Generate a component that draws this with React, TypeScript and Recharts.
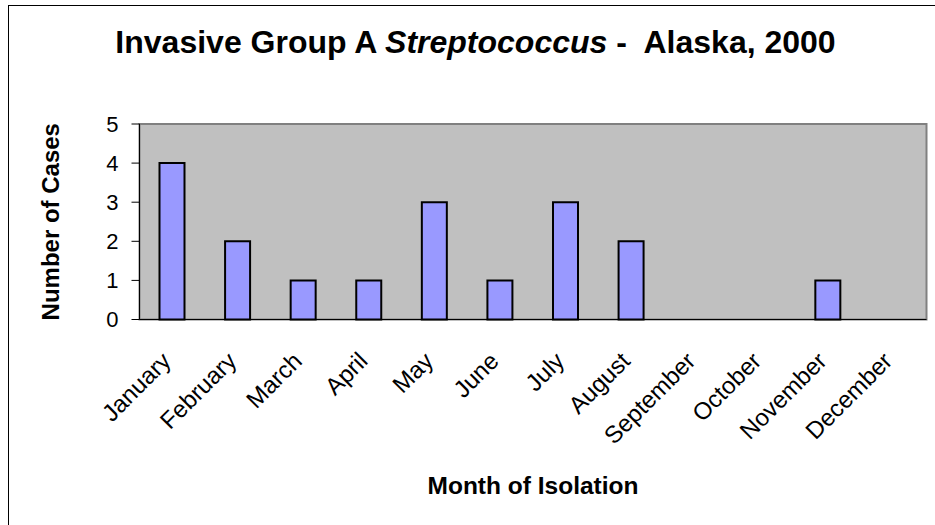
import React from 'react';
import { BarChart, Bar, XAxis, YAxis, ReferenceArea } from 'recharts';

const months = [
  'January', 'February', 'March', 'April', 'May', 'June',
  'July', 'August', 'September', 'October', 'November', 'December',
];
const cases = [4, 2, 1, 1, 3, 1, 3, 2, 0, 0, 1, 0];
const yTicks = [0, 1, 2, 3, 4, 5];
const monthEdges = [0, 1, 2, 3, 4, 5, 6, 7, 8, 9, 10, 11, 12];

const data = months.map((month, i) => ({ month, cases: cases[i] }));

const MonthTick = (props: any) => {
  const { x, y, payload } = props;
  return (
    <text
      x={x}
      y={y}
      transform={`rotate(-45, ${x}, ${y})`}
      textAnchor="end"
      fontSize={24}
      fill="#000"
    >
      {payload.value}
    </text>
  );
};

const App: React.FC = () => {
  return (
    <div
      style={{
        position: 'absolute',
        left: 0,
        top: 0,
        width: 935,
        height: 525,
        overflow: 'hidden',
        background: '#fff',
        fontFamily: '"Liberation Sans", Arial, sans-serif',
      }}
    >
      {/* chart frame, only left and top edges fall inside the picture */}
      <div
        style={{
          position: 'absolute',
          left: 8,
          top: 5,
          width: 1000,
          height: 1000,
          border: '1px solid #000',
          boxSizing: 'border-box',
        }}
      />
      <div style={{ position: 'absolute', left: 0, top: 0 }}>
        <BarChart
          width={935}
          height={525}
          data={data}
          margin={{ top: 124, right: 8.5, left: 0, bottom: 0 }}
        >
          <XAxis
            xAxisId="edges"
            type="number"
            domain={[0, 12]}
            allowDataOverflow
            ticks={monthEdges}
            tick={false}
            tickLine={{ stroke: '#000' }}
            tickSize={7}
            axisLine={false}
            height={0}
          />
          <XAxis
            dataKey="month"
            interval={0}
            height={205.5}
            axisLine={{ stroke: '#000' }}
            tickLine={false}
            tickSize={0}
            tickMargin={43}
            tick={<MonthTick />}
            label={{
              value: 'Month of Isolation',
              position: 'insideBottom',
              offset: 31,
              fontSize: 24.5,
              fontWeight: 'bold',
              fill: '#000',
            }}
          />
          <YAxis
            width={139.5}
            domain={[0, 5]}
            ticks={yTicks}
            interval={0}
            axisLine={{ stroke: '#000' }}
            tickLine={{ stroke: '#000' }}
            tickSize={8}
            tickMargin={13}
            tick={{ fontSize: 22, fill: '#000' }}
            label={{
              value: 'Number of Cases',
              angle: -90,
              position: 'insideLeft',
              offset: 50.5,
              fontSize: 24,
              fontWeight: 'bold',
              fill: '#000',
              style: { textAnchor: 'middle' },
            }}
          />
          <ReferenceArea
            y1={0}
            y2={5}
            fill="#C0C0C0"
            fillOpacity={1}
            stroke="#808080"
            strokeWidth={2}
          />
          <Bar
            dataKey="cases"
            fill="#9999FF"
            stroke="#000"
            strokeWidth={2}
            barSize={25}
            isAnimationActive={false}
          />
        </BarChart>
      </div>
      <svg
        width={935}
        height={525}
        style={{ position: 'absolute', left: 0, top: 0, pointerEvents: 'none' }}
      >
        <text
          x={475.5}
          y={53}
          textAnchor="middle"
          fontSize={32}
          fontWeight="bold"
          fill="#000"
          style={{ whiteSpace: 'pre' }}
        >
          {'Invasive Group A '}
          <tspan fontStyle="italic">Streptococcus</tspan>
          {' -  Alaska, 2000'}
        </text>
      </svg>
    </div>
  );
};

export default App;
